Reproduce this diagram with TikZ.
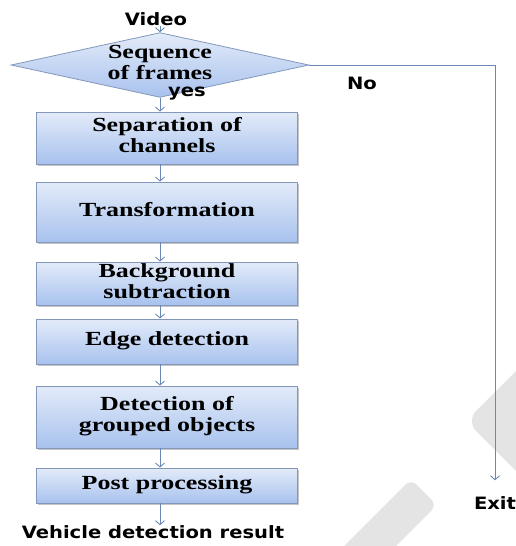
\documentclass[tikz,border=0pt]{standalone}
\usepackage{fontspec}
\usepackage{graphicx}
\setmainfont{Liberation Serif}
\newfontfamily\lblfont{DejaVu Sans}
\usetikzlibrary{positioning, shapes.geometric, arrows.meta, shadows}
\definecolor{boxtop}{HTML}{E3EBF9}
\definecolor{boxbot}{HTML}{A8C2EE}
\definecolor{boxline}{HTML}{8297BA}
\definecolor{flowline}{HTML}{6A87B5}
\definecolor{wmgray}{HTML}{E4E4E4}
\newcommand{\boxtext}[1]{\scalebox{1.3}[1]{\begin{tabular}{@{}c@{}}#1\end{tabular}}}
\newcommand{\lbltext}[1]{\scalebox{1.15}[1]{#1}}
\tikzset{
>={Straight Barb[length=4pt,width=9pt]},
stage/.style={draw=boxline, line width=0.8pt, top color=boxtop, bottom color=boxbot, minimum width=261pt, inner sep=0pt, font=\fontsize{20}{21}\selectfont\bfseries, drop shadow={shadow xshift=1pt, shadow yshift=-1.5pt, fill=black!45, opacity=0.5}},
decision/.style={diamond, aspect=4.6, draw=boxline, line width=0.8pt, top color=boxtop, bottom color=boxbot, inner sep=0pt, font=\fontsize{20}{21}\selectfont\bfseries},
flow/.style={->, draw=flowline, line width=0.9pt},
lbl/.style={font=\fontsize{17}{19}\selectfont\lblfont\bfseries, inner sep=0pt},
watermark/.style={fill=wmgray},
}
\begin{document}
\begin{tikzpicture}[x=1pt, y=-1pt]
    \useasboundingbox (0,0) rectangle (516,546);
    \begin{scope}
    \clip (0,0) rectangle (516,546);
    \fill[watermark, rounded corners=14pt] (466,421) -- (546,341) -- (626,421) -- (546,501) -- cycle;
    \fill[watermark, rounded corners=8pt] (411,479) -- (437,505) -- (331,611) -- (305,585) -- cycle;
    \end{scope}
    \node[lbl] (video) at (156,19) {\lbltext{Video}};
    \node[decision] (dia) at (160,65) {\boxtext{Sequence\\of frames}};
    \node[lbl] (yes) at (187,94) {\lbltext{yes}};
    \node[lbl] (no) at (362,83) {\lbltext{No}};
    \node[stage, minimum height=52pt] (b1) at (167,138) {\boxtext{Separation of\\channels}};
    \node[stage, minimum height=60pt] (b2) at (167,212) {\boxtext{Transformation}};
    \node[stage, minimum height=43pt] (b3) at (167,283.5) {\boxtext{Background\\subtraction}};
    \node[stage, minimum height=45pt] (b4) at (167,341.5) {\boxtext{Edge detection}};
    \node[stage, minimum height=62pt] (b5) at (167,417) {\boxtext{Detection of\\grouped objects}};
    \node[stage, minimum height=35pt] (b6) at (167,485.5) {\boxtext{Post processing}};
    \node[lbl] (res) at (153,532) {\lbltext{Vehicle detection result}};
    \node[lbl] (exit) at (495,503) {\lbltext{Exit}};
    \draw[flow] (video.south -| dia.north) -- (dia.north);
    \draw[flow] (dia.south) -- (dia.south |- b1.north);
    \foreach \a/\b in {b1/b2, b2/b3, b3/b4, b4/b5, b5/b6}
        \draw[flow] (\a.south -| dia.south) -- (\b.north -| dia.south);
    \draw[flow] (b6.south -| dia.south) -- (res.north -| dia.south);
    \draw[flow, shorten >=16pt] (dia.east) -| (exit.north);
\end{tikzpicture}
\end{document}
